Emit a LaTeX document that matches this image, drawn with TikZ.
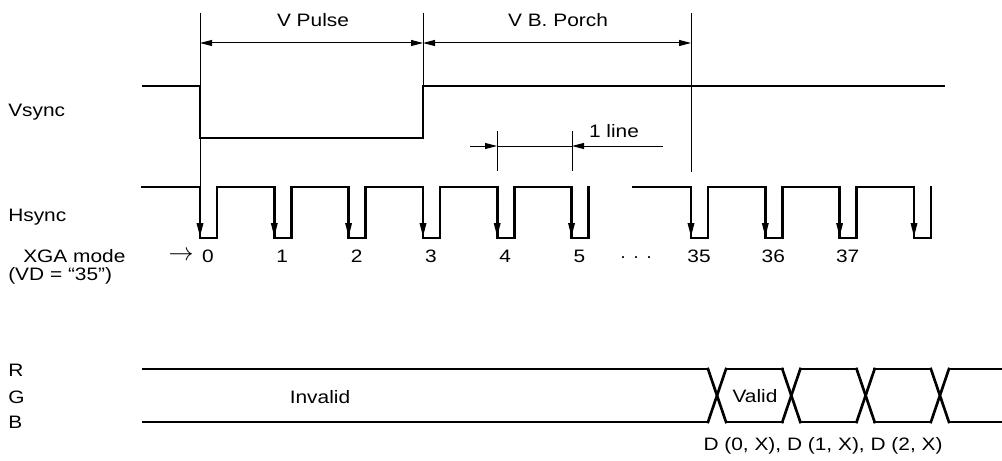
\documentclass[tikz,border=0pt]{standalone}
\usepackage{graphicx}
\usepackage{fontspec}
\setmainfont{Liberation Sans}
\usetikzlibrary{arrows.meta}

\newcommand{\wide}[1]{\scalebox{1.16}[1]{#1}}

\tikzset{
 wave/.style={line width=2pt, line cap=rect, line join=miter},
 guide/.style={line width=0.75pt},
 tip/.style={-{Triangle[length=10.5pt,width=4.8pt]}},
 dim/.style={guide, {Triangle[length=9pt,width=4.5pt]}-{Triangle[length=9pt,width=4.5pt]}},
 lbl/.style={font=\fontsize{13.5}{16}\selectfont, inner sep=0pt}
}

\begin{document}
\begin{tikzpicture}[x=0.75pt, y=-0.75pt]
\useasboundingbox (0,0) rectangle (1002,460);

 \node[lbl, anchor=west] (vsync) at (8,112) {\wide{Vsync}};
 \node[lbl, anchor=west] (hsync) at (8,217) {\wide{Hsync}};
 \node[lbl, anchor=west] (xga) at (23,256) {\wide{XGA mode}};
 \node[lbl, anchor=west] (vd) at (8,276) {\wide{(VD = “35”)}};
 \node[lbl] (start) at (181,256) {\scalebox{1.3}{$\rightarrow$}};

 \node[lbl] (vpulse) at (313,20) {\wide{V Pulse}};
 \node[lbl] (vporch) at (558,20) {\wide{V B. Porch}};
 \node[lbl] (oneline) at (614,131) {\wide{1 line}};

 \coordinate (p0) at (200,43);
 \coordinate (p3) at (423,43);
 \coordinate (p35) at (691,43);
 \draw[guide] (200,13) -- (200,187);
 \draw[guide] (423,13) -- (423,86);
 \draw[guide] (691,13) -- (691,172);
 \draw[dim] (p0) -- (p3);
 \draw[dim] (p3) -- (p35);

 \coordinate (l4) at (497,146);
 \coordinate (l5) at (572,146);
 \coordinate (lin) at (470,146);
 \coordinate (lout) at (663,146);
 \draw[guide] (497,131) -- (497,171);
 \draw[guide] (572,131) -- (572,171);
 \draw[guide] (l4) -- (l5);
 \draw[guide, -{Triangle[length=9pt,width=4.5pt]}] (lin) -- (l4);
 \draw[guide, -{Triangle[length=9pt,width=4.5pt]}] (lout) -- (l5);

 \draw[wave] (143,86) -- (200,86) -- (200,138) -- (423,138) -- (423,86) -- (944,86);

\foreach \x/\n in {200/0, 274.3/1, 348.6/2, 423/3, 497.2/4, 571.5/5, 691/35, 765.3/36, 839.6/37, 914/}
{
 \draw[wave] (\x-57.3,187) -- (\x,187) -- (\x,238) -- (\x+17,238) -- (\x+17,187);
 \draw[line width=1.5pt, tip] (\x,205) -- (\x,237);
 \node[lbl] (n\n) at (\x+8,256) {\wide{\n}};
}
 \node[lbl] (dots) at (636,258) {.\hspace{6pt}.\hspace{6pt}.};

 \node[lbl, anchor=west] (r) at (8,370) {\wide{R}};
 \node[lbl, anchor=west] (g) at (8,397) {\wide{G}};
 \node[lbl, anchor=west] (b) at (8,422) {\wide{B}};

 \draw[wave] (143,369) -- (708,369);
 \draw[wave] (143,422) -- (708,422);
\foreach \c in {717, 791.3, 865.6, 939.9}
{
 \draw[wave] (\c-9,369) -- (\c+9,422);
 \draw[wave] (\c-9,422) -- (\c+9,369);
 \draw[wave] (\c+9,369) -- (\c+65.3,369);
 \draw[wave] (\c+9,422) -- (\c+65.3,422);
}

 \node[lbl] (invalid) at (320,397) {\wide{Invalid}};
 \node[lbl] (valid) at (755,396) {\wide{Valid}};
 \node[lbl] (data) at (823,446) {\wide{D (0, X), D (1, X), D (2, X)}};

\end{tikzpicture}
\end{document}
